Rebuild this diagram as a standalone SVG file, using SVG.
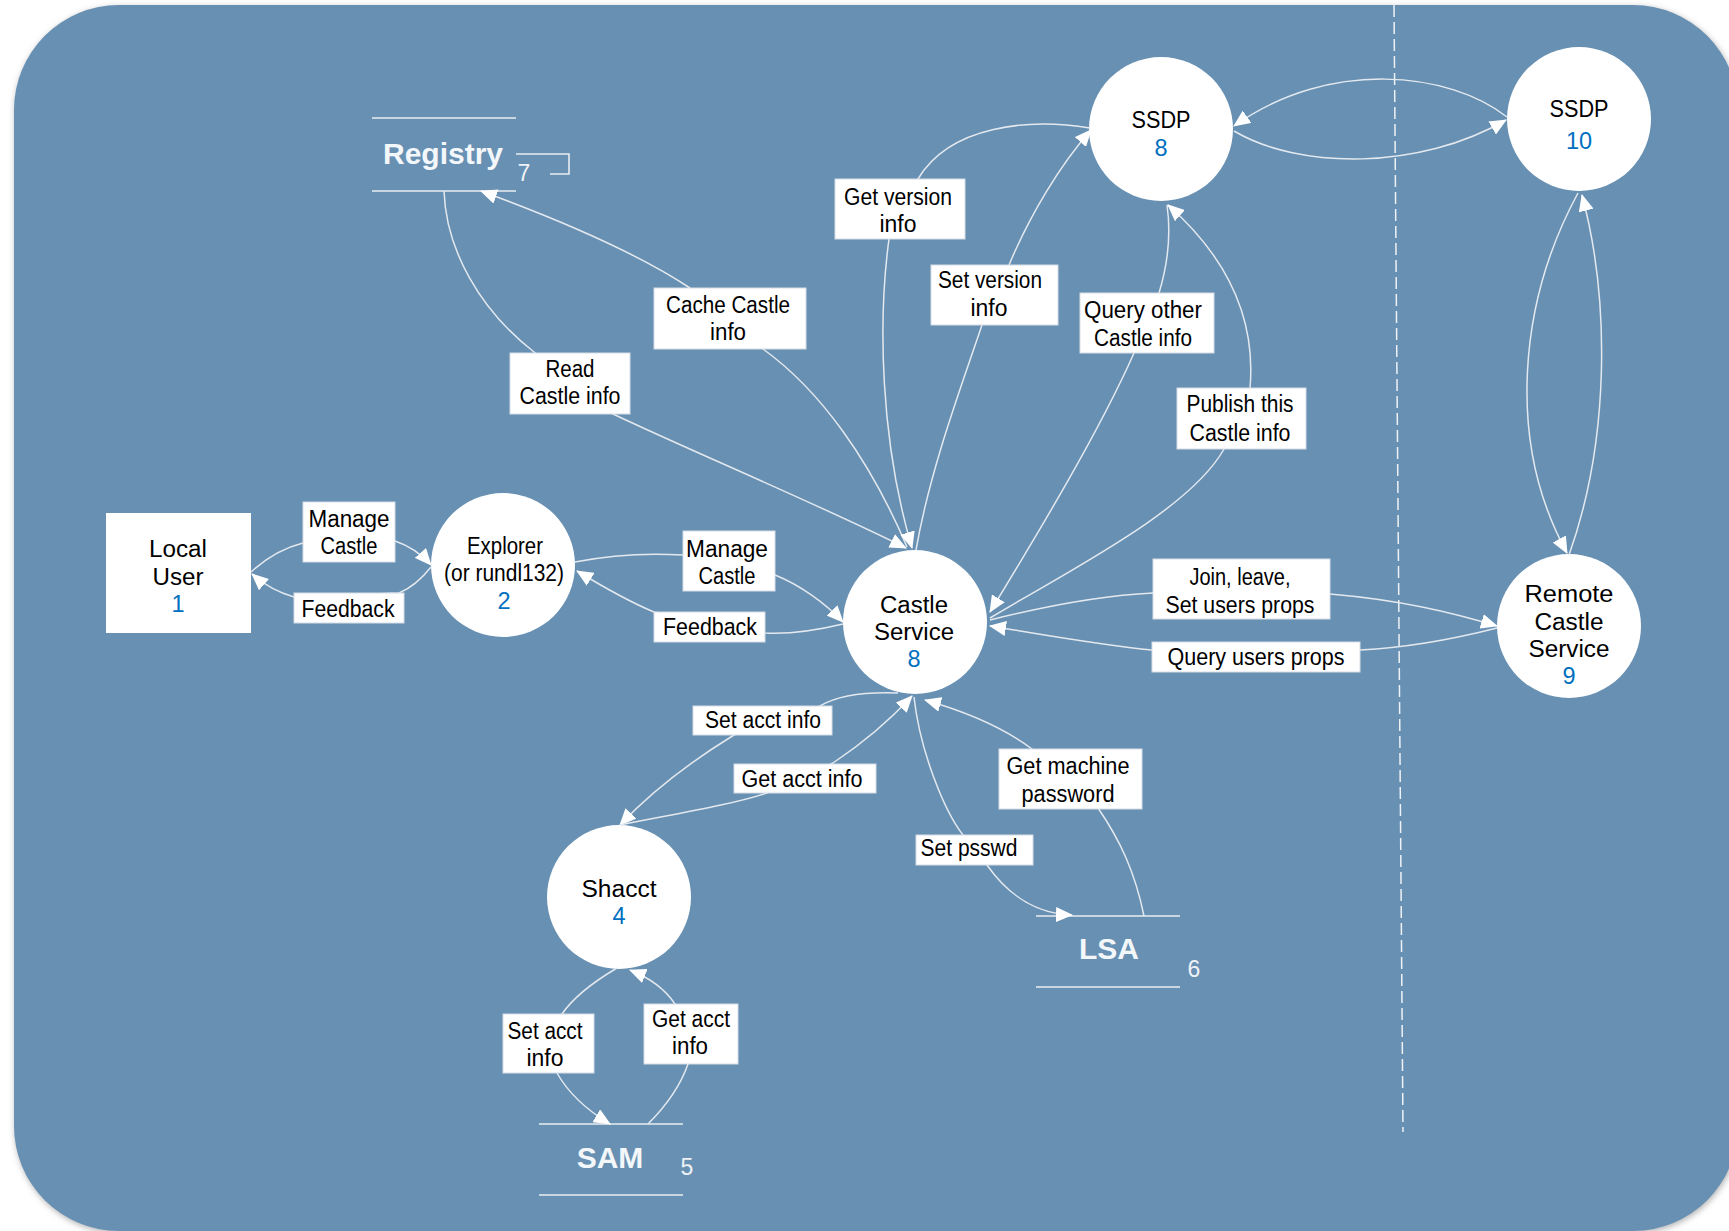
<svg xmlns="http://www.w3.org/2000/svg" width="1729" height="1231" viewBox="0 0 1729 1231">
<defs>
<filter id="sh" x="-5%" y="-5%" width="110%" height="110%">
<feDropShadow dx="1" dy="2" stdDeviation="3" flood-color="#7d7d7d" flood-opacity="0.6"/>
</filter>
<marker id="ah" markerWidth="17" markerHeight="15" refX="16" refY="7.5" orient="auto" markerUnits="userSpaceOnUse">
<path d="M0,0 L17,7.5 L0,15 z" fill="#ffffff"/>
</marker>
<style>
.bg{fill:#6890b3}
.nd{fill:#ffffff}
.nt{font-family:"Liberation Sans",Arial,sans-serif;font-size:23.5px;fill:#000;text-anchor:middle}
.num{fill:#0070c0}
.cn{fill:none;stroke:#e3e9ef;stroke-width:1.5;marker-end:url(#ah)}
.lbox{fill:#ffffff;stroke:#d5dde6;stroke-width:1}
.lt{font-family:"Liberation Sans",Arial,sans-serif;font-size:23.5px;fill:#000;text-anchor:middle}
.st{fill:none;stroke:#e8edf2;stroke-width:1.6}
.stn{font-family:"Liberation Sans",Arial,sans-serif;font-size:30px;font-weight:bold;fill:#f4f7fa;text-anchor:middle}
.sno{font-family:"Liberation Sans",Arial,sans-serif;font-size:23px;fill:#eef2f6;text-anchor:middle}
.dash{fill:none;stroke:#eef2f6;stroke-width:1.5;stroke-dasharray:12 5}
</style>
</defs>

<rect class="bg" x="14" y="5" width="1724" height="1226" rx="105" ry="105" filter="url(#sh)"/>
<path class="dash" d="M1394,5 L1403,1132"/>

<g id="node-local-user">
<rect class="nd" x="106" y="513" width="145" height="120"/>
<text class="nt"><tspan x="178" y="557" textLength="58" lengthAdjust="spacingAndGlyphs">Local</tspan><tspan x="178" y="585" textLength="51" lengthAdjust="spacingAndGlyphs">User</tspan><tspan class="num" x="178" y="612">1</tspan></text>
</g>
<g id="node-explorer">
<circle class="nd" cx="503" cy="565" r="72"/>
<text class="lt"><tspan x="505" y="554" textLength="76" lengthAdjust="spacingAndGlyphs">Explorer</tspan><tspan x="504" y="581" textLength="120" lengthAdjust="spacingAndGlyphs">(or rundl132)</tspan><tspan class="num" x="504" y="609">2</tspan></text>
</g>
<g id="node-castle-service">
<circle class="nd" cx="915" cy="622" r="72"/>
<text class="nt"><tspan x="914" y="613" textLength="68" lengthAdjust="spacingAndGlyphs">Castle</tspan><tspan x="914" y="640" textLength="80" lengthAdjust="spacingAndGlyphs">Service</tspan><tspan class="num" x="914" y="667">8</tspan></text>
</g>
<g id="node-shacct">
<circle class="nd" cx="619" cy="897" r="72"/>
<text class="nt"><tspan x="619" y="897" textLength="75" lengthAdjust="spacingAndGlyphs">Shacct</tspan><tspan class="num" x="619" y="924">4</tspan></text>
</g>
<g id="node-ssdp8">
<circle class="nd" cx="1161" cy="129" r="72"/>
<text class="nt"><tspan x="1161" y="128" textLength="59" lengthAdjust="spacingAndGlyphs">SSDP</tspan><tspan class="num" x="1161" y="156">8</tspan></text>
</g>
<g id="node-ssdp10">
<circle class="nd" cx="1579" cy="119" r="72"/>
<text class="nt"><tspan x="1579" y="117" textLength="59" lengthAdjust="spacingAndGlyphs">SSDP</tspan><tspan class="num" x="1579" y="149">10</tspan></text>
</g>
<g id="node-remote-castle">
<circle class="nd" cx="1569" cy="626" r="72"/>
<text class="nt"><tspan x="1569" y="602" textLength="89" lengthAdjust="spacingAndGlyphs">Remote</tspan><tspan x="1569" y="630" textLength="69" lengthAdjust="spacingAndGlyphs">Castle</tspan><tspan x="1569" y="657" textLength="81" lengthAdjust="spacingAndGlyphs">Service</tspan><tspan class="num" x="1569" y="684">9</tspan></text>
</g>
<g id="node-registry">
<path class="st" d="M372,118 H516 M372,191 H516"/>
<path class="st" d="M516,154 H569 V174 H550"/>
<text class="stn" x="443" y="164">Registry</text>
<text class="sno" x="524" y="181">7</text>
</g>
<g id="node-sam">
<path class="st" d="M539,1124 H683 M539,1195 H683"/>
<text class="stn" x="610" y="1168">SAM</text>
<text class="sno" x="687" y="1175">5</text>
</g>
<g id="node-lsa">
<path class="st" d="M1036,916 H1180 M1036,987 H1180"/>
<text class="stn" x="1109" y="959">LSA</text>
<text class="sno" x="1194" y="977">6</text>
</g>

<g id="connectors">
<path class="cn" d="M251,572 Q275,550 303,543 L395,541 Q416,548 431,565"/>
<path class="cn" d="M431,567 Q416,586 399,593 L294,597 Q270,590 252,574"/>
<path class="cn" d="M575,562 C610,555 650,553 683,555 L775,575 C800,585 825,603 843,622"/>
<path class="cn" d="M843,624 C810,632 785,634 765,633 L654,612 C625,600 600,585 577,571"/>
<path class="cn" d="M444,191 C446,250 480,310 534,352 L613,414 C700,455 820,505 906,548"/>
<path class="cn" d="M907,547 C870,460 820,390 763,349 L690,288 C640,255 560,220 481,191"/>
<path class="cn" d="M1090,128 C1030,118 950,125 918,179 L889,239 C878,320 880,440 912,548"/>
<path class="cn" d="M916,550 C930,470 960,390 982,325 L1009,265 C1030,215 1060,165 1091,130"/>
<path class="cn" d="M1167,205 C1172,240 1166,270 1159,293 L1134,353 C1100,430 1040,530 990,612"/>
<path class="cn" d="M990,618 C1070,570 1190,510 1224,449 L1250,388 C1256,320 1230,260 1168,205"/>
<path class="cn" d="M1507,117 C1450,72 1330,58 1234,126"/>
<path class="cn" d="M1234,131 C1300,170 1420,170 1506,120"/>
<path class="cn" d="M1578,193 C1520,300 1505,440 1567,553"/>
<path class="cn" d="M1569,555 C1610,440 1610,300 1582,195"/>
<path class="cn" d="M990,620 C1050,605 1110,595 1153,593 L1330,594 C1400,600 1450,612 1497,626"/>
<path class="cn" d="M1497,628 C1450,640 1400,648 1360,650 L1152,650 C1100,645 1040,634 990,626"/>
<path class="cn" d="M898,693 C870,692 840,694 820,706 L734,735 C690,762 650,793 620,825"/>
<path class="cn" d="M620,825 C680,813 730,805 767,793 L833,763 C860,745 890,720 912,696"/>
<path class="cn" d="M1144,916 C1135,872 1120,840 1098,808 L1032,749 C1000,725 960,710 925,700"/>
<path class="cn" d="M914,697 C920,752 945,812 963,835 L987,865 C1010,898 1040,914 1072,915"/>
<path class="cn" d="M617,968 C595,981 575,995 562,1014 L557,1073 C570,1096 590,1112 610,1124"/>
<path class="cn" d="M648,1124 C665,1107 680,1087 688,1064 L675,1004 C665,989 650,978 630,970"/>
</g>

<g id="labels">
<g id="lbl-manage-castle-1"><rect class="lbox" x="303" y="502" width="92" height="60"/>
<text class="lt"><tspan x="349" y="527" textLength="81" lengthAdjust="spacingAndGlyphs">Manage</tspan><tspan x="349" y="554" textLength="57" lengthAdjust="spacingAndGlyphs">Castle</tspan></text></g>
<g id="lbl-feedback-1"><rect class="lbox" x="294" y="593" width="110" height="30"/>
<text class="lt" x="348" y="617" textLength="93" lengthAdjust="spacingAndGlyphs">Feedback</text></g>
<g id="lbl-manage-castle-2"><rect class="lbox" x="683" y="531" width="92" height="60"/>
<text class="lt"><tspan x="727" y="557" textLength="82" lengthAdjust="spacingAndGlyphs">Manage</tspan><tspan x="727" y="584" textLength="57" lengthAdjust="spacingAndGlyphs">Castle</tspan></text></g>
<g id="lbl-feedback-2"><rect class="lbox" x="654" y="612" width="111" height="30"/>
<text class="lt" x="710" y="635" textLength="94" lengthAdjust="spacingAndGlyphs">Feedback</text></g>
<g id="lbl-read"><rect class="lbox" x="510" y="353" width="120" height="61"/>
<text class="lt"><tspan x="570" y="377" textLength="49" lengthAdjust="spacingAndGlyphs">Read</tspan><tspan x="570" y="404" textLength="101" lengthAdjust="spacingAndGlyphs">Castle info</tspan></text></g>
<g id="lbl-cache"><rect class="lbox" x="654" y="288" width="152" height="61"/>
<text class="lt"><tspan x="728" y="313" textLength="124" lengthAdjust="spacingAndGlyphs">Cache Castle</tspan><tspan x="728" y="340" textLength="36" lengthAdjust="spacingAndGlyphs">info</tspan></text></g>
<g id="lbl-get-version"><rect class="lbox" x="835" y="179" width="130" height="60"/>
<text class="lt"><tspan x="898" y="205" textLength="108" lengthAdjust="spacingAndGlyphs">Get version</tspan><tspan x="898" y="232" textLength="37" lengthAdjust="spacingAndGlyphs">info</tspan></text></g>
<g id="lbl-set-version"><rect class="lbox" x="931" y="265" width="127" height="60"/>
<text class="lt"><tspan x="990" y="288" textLength="104" lengthAdjust="spacingAndGlyphs">Set version</tspan><tspan x="989" y="316" textLength="37" lengthAdjust="spacingAndGlyphs">info</tspan></text></g>
<g id="lbl-query-other"><rect class="lbox" x="1080" y="293" width="134" height="60"/>
<text class="lt"><tspan x="1143" y="318" textLength="118" lengthAdjust="spacingAndGlyphs">Query other</tspan><tspan x="1143" y="346" textLength="98" lengthAdjust="spacingAndGlyphs">Castle info</tspan></text></g>
<g id="lbl-publish"><rect class="lbox" x="1177" y="388" width="129" height="61"/>
<text class="lt"><tspan x="1240" y="412" textLength="107" lengthAdjust="spacingAndGlyphs">Publish this</tspan><tspan x="1240" y="441" textLength="101" lengthAdjust="spacingAndGlyphs">Castle info</tspan></text></g>
<g id="lbl-join"><rect class="lbox" x="1153" y="559" width="177" height="60"/>
<text class="lt"><tspan x="1240" y="585" textLength="101" lengthAdjust="spacingAndGlyphs">Join, leave,</tspan><tspan x="1240" y="613" textLength="149" lengthAdjust="spacingAndGlyphs">Set users props</tspan></text></g>
<g id="lbl-query-users"><rect class="lbox" x="1152" y="642" width="208" height="30"/>
<text class="lt" x="1256" y="665" textLength="177" lengthAdjust="spacingAndGlyphs">Query users props</text></g>
<g id="lbl-set-acct-1"><rect class="lbox" x="693" y="706" width="139" height="29"/>
<text class="lt" x="763" y="728" textLength="116" lengthAdjust="spacingAndGlyphs">Set acct info</text></g>
<g id="lbl-get-acct-1"><rect class="lbox" x="734" y="764" width="142" height="29"/>
<text class="lt" x="802" y="787" textLength="121" lengthAdjust="spacingAndGlyphs">Get acct info</text></g>
<g id="lbl-get-machine"><rect class="lbox" x="999" y="749" width="143" height="60"/>
<text class="lt"><tspan x="1068" y="774" textLength="123" lengthAdjust="spacingAndGlyphs">Get machine</tspan><tspan x="1068" y="802" textLength="93" lengthAdjust="spacingAndGlyphs">password</tspan></text></g>
<g id="lbl-set-psswd"><rect class="lbox" x="916" y="835" width="117" height="30"/>
<text class="lt" x="969" y="856" textLength="97" lengthAdjust="spacingAndGlyphs">Set psswd</text></g>
<g id="lbl-set-acct-2"><rect class="lbox" x="503" y="1014" width="91" height="59"/>
<text class="lt"><tspan x="545" y="1039" textLength="75" lengthAdjust="spacingAndGlyphs">Set acct</tspan><tspan x="545" y="1066" textLength="37" lengthAdjust="spacingAndGlyphs">info</tspan></text></g>
<g id="lbl-get-acct-2"><rect class="lbox" x="644" y="1004" width="94" height="60"/>
<text class="lt"><tspan x="691" y="1027" textLength="78" lengthAdjust="spacingAndGlyphs">Get acct</tspan><tspan x="690" y="1054" textLength="36" lengthAdjust="spacingAndGlyphs">info</tspan></text></g>
</g>
</svg>
